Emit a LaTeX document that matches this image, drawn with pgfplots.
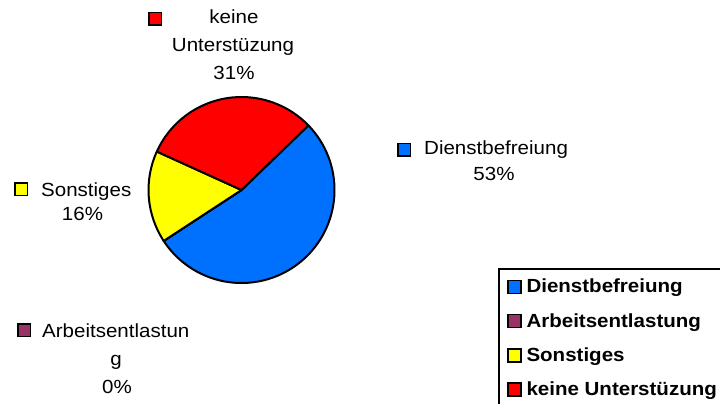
\documentclass[border=0pt]{standalone}
\usepackage{fontspec}
\setmainfont{Liberation Sans}[FakeStretch=1.08]
\usepackage{pgfplots}
\pgfplotsset{compat=1.18}

\definecolor{cBlue}{RGB}{0,112,255}
\definecolor{cPlum}{RGB}{153,51,102}
\definecolor{cYellow}{RGB}{255,255,0}
\definecolor{cRed}{RGB}{255,0,0}

% key square beside a slice label, pixel units
\newcommand{\keysq}[3]{\node[draw=black, line width=1.5bp, fill=#3, minimum size=12.5bp, inner sep=0pt] at (axis cs:#1,#2) {};}

\begin{document}
\fontsize{19bp}{26bp}\selectfont
\begin{tikzpicture}
\begin{axis}[
    width=720bp, height=403bp, scale only axis,
    xmin=0, xmax=720, ymin=0, ymax=403,
    y dir=reverse, hide axis, clip=false,
    legend style={at={(axis cs:497.5,267.7)}, anchor=north west,
        draw=black, line width=2bp, fill=white,
        font=\fontsize{19bp}{26bp}\selectfont\bfseries, inner xsep=8.5bp, inner ysep=10.5bp,
        row sep=17.5bp, column sep=5bp, nodes={inner sep=0pt}},
    legend cell align=left,
    legend image code/.code={\draw[#1, draw=black, line width=1.5bp] (0bp,-6bp) rectangle (13bp,7bp);},
]
% pie: value / colour, clockwise from 44 degrees
\pgfplotsextra{
  \foreach \v/\c [evaluate=\v as \e using \a-3.6*\v, remember=\e as \a (initially 44)] in
      {53/cBlue, 0/cPlum, 16/cYellow, 31/cRed} {
    \filldraw[fill=\c, draw=black, line width=2bp, line join=round]
      (axis cs:241.5,190) -- (axis cs:{241.5+93*cos(\a)},{190-93*sin(\a)})
      arc[start angle=\a, end angle=\e, radius=93bp] -- cycle;
  }
}
\addlegendimage{fill=cBlue}\addlegendentry{Dienstbefreiung}
\addlegendimage{fill=cPlum}\addlegendentry{Arbeitsentlastung}
\addlegendimage{fill=cYellow}\addlegendentry{Sonstiges}
\addlegendimage{fill=cRed}\addlegendentry{keine Unterstüzung}

% data labels
\keysq{155}{19}{cRed}
\node[anchor=base, inner sep=0pt] at (axis cs:234,24) {keine};
\node[anchor=base, inner sep=0pt] at (axis cs:233,51.5) {Unterstüzung};
\node[anchor=base, inner sep=0pt] at (axis cs:234,79) {31\%};

\keysq{404}{149.5}{cBlue}
\node[anchor=base west, inner sep=0pt] at (axis cs:424,154.5) {Dienstbefreiung};
\node[anchor=base, inner sep=0pt] at (axis cs:494,180.5) {53\%};

\keysq{21}{189}{cYellow}
\node[anchor=base west, inner sep=0pt] at (axis cs:41,196) {Sonstiges};
\node[anchor=base, inner sep=0pt] at (axis cs:82.5,220.5) {16\%};

\keysq{24}{330}{cPlum}
\node[anchor=base west, inner sep=0pt] at (axis cs:42,337) {Arbeitsentlastun};
\node[anchor=base, inner sep=0pt] at (axis cs:116,365) {g};
\node[anchor=base, inner sep=0pt] at (axis cs:117,393) {0\%};
\end{axis}
\pgfresetboundingbox
\path[use as bounding box] (current axis.south west) rectangle (current axis.north east);
\end{tikzpicture}
\end{document}
